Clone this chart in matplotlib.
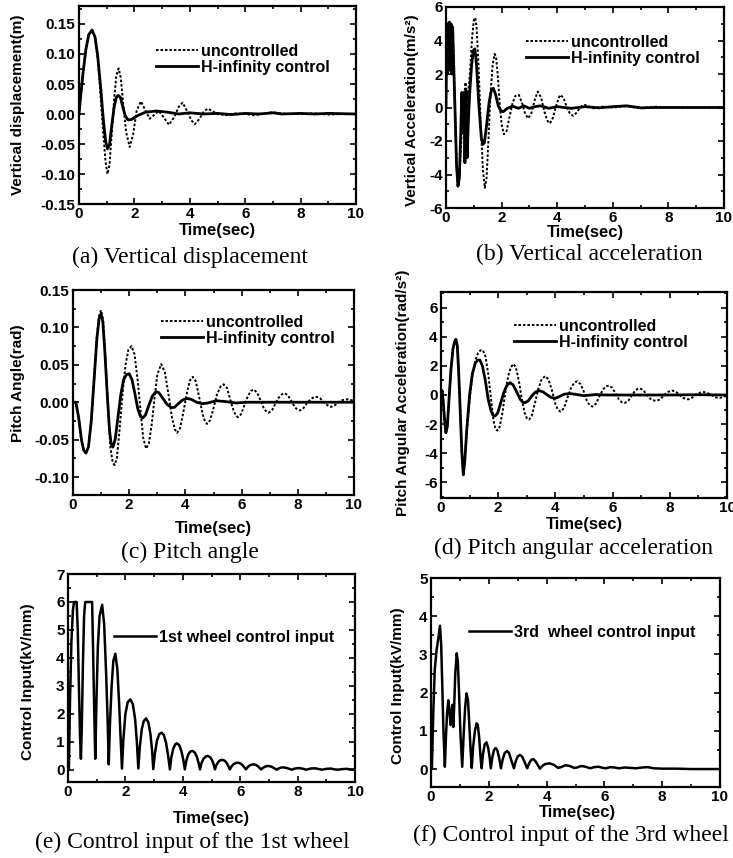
import matplotlib
matplotlib.use("Agg")
import matplotlib.pyplot as plt
from matplotlib.ticker import MultipleLocator, FormatStrFormatter

plt.rcParams['font.family'] = ['Liberation Sans', 'DejaVu Sans']
plt.rcParams['font.weight'] = 'bold'
plt.rcParams['axes.unicode_minus'] = False

# (time, value) pairs
a_unc = [(0, 0), (0.05, 0.025), (0.15, 0.07), (0.25, 0.108), (0.35, 0.132), (0.47, 0.140), (0.58, 0.128),
         (0.68, 0.09), (0.78, 0.03), (0.88, -0.035), (0.96, -0.08), (1.03, -0.100), (1.1, -0.085), (1.18, -0.035),
         (1.27, 0.025), (1.35, 0.065), (1.43, 0.076), (1.51, 0.06), (1.6, 0.015), (1.7, -0.03), (1.83, -0.055),
         (1.95, -0.035), (2.08, 0.005), (2.23, 0.021), (2.38, 0.008), (2.55, -0.008), (2.7, -0.002), (2.88, 0.005),
         (3.05, -0.005), (3.25, -0.018), (3.45, -0.004), (3.6, 0.012), (3.74, 0.019), (3.9, 0.005), (4.05, -0.01),
         (4.18, -0.017), (4.35, -0.008), (4.5, 0.004), (4.65, 0.009), (4.8, 0.005), (5.0, 0.0), (5.3, -0.002),
         (5.6, 0.001), (6.0, 0.0), (6.3, -0.002), (6.6, 0.0), (7.0, 0.003), (7.5, 0.0), (8.0, 0.0), (8.5, 0.001),
         (9.0, -0.001), (9.5, 0.0), (10, 0.0)]
a_ctrl = [(0, 0), (0.05, 0.025), (0.15, 0.07), (0.25, 0.108), (0.35, 0.132), (0.47, 0.140), (0.58, 0.128),
          (0.68, 0.095), (0.78, 0.045), (0.88, -0.01), (0.96, -0.045), (1.03, -0.058), (1.1, -0.052), (1.18, -0.02),
          (1.27, 0.012), (1.35, 0.028), (1.42, 0.031), (1.5, 0.027), (1.58, 0.012), (1.67, -0.003), (1.77, -0.010),
          (1.9, -0.009), (2.1, -0.003), (2.4, 0.003), (2.8, 0.005), (3.2, 0.003), (3.6, 0.0), (4.0, 0.002),
          (4.5, 0.0), (5.0, 0.001), (5.5, -0.001), (6.0, 0.001), (6.5, 0.0), (7.0, 0.002), (7.3, 0.0),
          (8.0, 0.001), (8.5, 0.0), (9.0, 0.001), (10.0, 0.0)]

b_unc = [(0, 0), (0.02, 4.0), (0.04, 2.0), (0.06, 5.0), (0.09, 2.2), (0.12, 5.1), (0.15, 2.5), (0.18, 5.0),
         (0.21, 2.0), (0.24, 4.8), (0.27, 3.0), (0.33, -0.5), (0.38, -3.5), (0.43, -4.7), (0.48, -4.2), (0.55, -2.0),
         (0.62, 0.0), (0.7, 1.5), (0.78, 0.5), (0.86, 2.0), (0.94, 4.2), (1.0, 5.2), (1.05, 5.36), (1.1, 4.8),
         (1.17, 2.5), (1.25, -1.0), (1.33, -3.8), (1.4, -4.8), (1.46, -4.2), (1.53, -1.8), (1.6, 0.8), (1.68, 2.6),
         (1.75, 3.2), (1.8, 3.0), (1.86, 2.0), (1.93, 0.3), (2.0, -1.0), (2.08, -1.6), (2.18, -1.4), (2.28, -0.6),
         (2.4, 0.3), (2.5, 0.7), (2.62, 0.75), (2.75, 0.2), (2.85, -0.4), (2.96, -0.65), (3.08, -0.3), (3.2, 0.5),
         (3.3, 0.95), (3.42, 0.6), (3.55, -0.3), (3.65, -0.8), (3.74, -0.95), (3.85, -0.6), (3.98, 0.2),
         (4.1, 0.75), (4.22, 0.6), (4.35, 0.0), (4.47, -0.4), (4.58, -0.5), (4.7, -0.3), (4.85, 0.05), (5.0, 0.15),
         (5.3, -0.05), (5.6, 0.05), (6.0, 0.0), (6.5, 0.08), (7, -0.05), (7.5, 0.05), (8, 0.0), (9, 0.0), (10, 0.0)]
b_ctrl = [(0, 0), (0.02, 4.0), (0.04, 2.0), (0.06, 5.0), (0.09, 2.2), (0.12, 5.1), (0.15, 2.5), (0.18, 5.0),
          (0.21, 2.0), (0.24, 4.8), (0.27, 3.0), (0.33, -0.5), (0.38, -3.5), (0.43, -4.7), (0.48, -4.2),
          (0.53, -1.5), (0.57, 0.9), (0.61, -1.5), (0.65, 0.9), (0.68, -3.3), (0.72, 1.0), (0.76, -3.0),
          (0.8, -1.0), (0.85, 0.8), (0.92, 2.5), (0.98, 3.4), (1.04, 3.5), (1.1, 2.5), (1.18, 0.2), (1.27, -1.8),
          (1.33, -2.2), (1.38, -2.1), (1.45, -1.2), (1.55, 0.3), (1.63, 1.0), (1.7, 1.15), (1.78, 0.8),
          (1.88, 0.1), (1.97, -0.2), (2.06, -0.25), (2.2, -0.05), (2.4, 0.08), (2.6, -0.05), (2.8, 0.1),
          (3.0, -0.05), (3.2, 0.05), (3.4, 0.1), (3.7, -0.05), (4.0, 0.05), (4.5, -0.05), (5.0, 0.05),
          (5.5, -0.02), (6.0, 0.05), (6.5, 0.1), (7.0, -0.02), (7.5, 0.0), (8.0, 0.0), (9.0, 0.0), (10.0, 0.0)]

c_unc = [(0, 0), (0.1, 0.0), (0.2, -0.02), (0.3, -0.05), (0.38, -0.064), (0.46, -0.068), (0.55, -0.06),
         (0.65, -0.025), (0.75, 0.03), (0.85, 0.088), (0.93, 0.116), (1.0, 0.123), (1.07, 0.11), (1.15, 0.06),
         (1.24, -0.005), (1.33, -0.06), (1.41, -0.08), (1.48, -0.084), (1.56, -0.075), (1.65, -0.04), (1.76, 0.01),
         (1.87, 0.05), (1.97, 0.07), (2.08, 0.075), (2.19, 0.064), (2.3, 0.03), (2.4, -0.01), (2.5, -0.048),
         (2.6, -0.062), (2.7, -0.055), (2.8, -0.03), (2.9, 0.005), (3.0, 0.037), (3.14, 0.051), (3.27, 0.04),
         (3.4, 0.01), (3.52, -0.02), (3.62, -0.036), (3.7, -0.041), (3.8, -0.036), (3.92, -0.015), (4.05, 0.012),
         (4.16, 0.029), (4.26, 0.034), (4.37, 0.028), (4.5, 0.005), (4.62, -0.017), (4.7, -0.026), (4.77, -0.029),
         (4.88, -0.024), (5.0, -0.008), (5.13, 0.011), (5.25, 0.021), (5.36, 0.024), (5.48, 0.019), (5.6, 0.003),
         (5.72, -0.012), (5.8, -0.018), (5.87, -0.020), (5.98, -0.016), (6.1, -0.004), (6.22, 0.008),
         (6.33, 0.015), (6.43, 0.017), (6.55, 0.013), (6.68, 0.002), (6.8, -0.009), (6.9, -0.013), (6.96, -0.014),
         (7.08, -0.011), (7.2, -0.002), (7.32, 0.006), (7.45, 0.011), (7.54, 0.012), (7.65, 0.009), (7.78, 0.001),
         (7.9, -0.007), (8.0, -0.010), (8.08, -0.011), (8.2, -0.008), (8.33, -0.001), (8.46, 0.004), (8.58, 0.007),
         (8.68, 0.007), (8.8, 0.005), (8.93, 0.0), (9.05, -0.004), (9.13, -0.006), (9.2, -0.006), (9.32, -0.004),
         (9.45, 0.0), (9.6, 0.003), (9.75, 0.004), (9.88, 0.003), (10.0, 0.002)]
c_ctrl = [(0, 0), (0.1, 0.0), (0.2, -0.02), (0.3, -0.05), (0.38, -0.064), (0.46, -0.068), (0.55, -0.06),
          (0.65, -0.025), (0.75, 0.03), (0.85, 0.085), (0.93, 0.112), (1.0, 0.118), (1.06, 0.108), (1.13, 0.07),
          (1.22, 0.01), (1.3, -0.038), (1.36, -0.056), (1.42, -0.06), (1.5, -0.05), (1.6, -0.02), (1.7, 0.01),
          (1.8, 0.03), (1.9, 0.037), (2.0, 0.038), (2.1, 0.03), (2.2, 0.012), (2.3, -0.008), (2.4, -0.019),
          (2.48, -0.021), (2.58, -0.017), (2.7, -0.004), (2.82, 0.008), (2.95, 0.014), (3.05, 0.013), (3.2, 0.005),
          (3.35, -0.003), (3.5, -0.007), (3.6, -0.007), (3.75, -0.002), (3.9, 0.003), (4.05, 0.005), (4.2, 0.004),
          (4.4, 0.0), (4.6, -0.002), (4.8, -0.001), (5.1, 0.002), (5.4, 0.001), (5.8, -0.001), (6.2, 0.0),
          (7, 0.0), (8, 0.0), (9, 0.0), (10, 0.0)]

d_unc = [(0, 0), (0.04, 0.3), (0.08, -0.5), (0.12, -1.6), (0.17, -2.6), (0.22, -2.2), (0.28, -0.3), (0.35, 1.8),
         (0.42, 3.2), (0.48, 3.7), (0.52, 3.8), (0.57, 3.4), (0.62, 1.5), (0.68, -1.5), (0.73, -4.0), (0.78, -5.4),
         (0.83, -4.6), (0.9, -2.6), (1.0, -0.3), (1.1, 1.4), (1.2, 2.4), (1.3, 2.9), (1.38, 3.08), (1.46, 3.1),
         (1.55, 2.7), (1.65, 1.5), (1.75, -0.3), (1.84, -1.8), (1.9, -2.3), (1.97, -2.46), (2.05, -2.2),
         (2.15, -1.2), (2.25, 0.2), (2.35, 1.3), (2.44, 1.9), (2.53, 2.14), (2.62, 1.9), (2.72, 1.0), (2.82, -0.2),
         (2.92, -1.2), (3.0, -1.6), (3.08, -1.7), (3.17, -1.45), (3.28, -0.6), (3.4, 0.4), (3.52, 1.1),
         (3.64, 1.3), (3.75, 1.1), (3.87, 0.4), (3.98, -0.5), (4.08, -1.0), (4.18, -1.15), (4.3, -0.9),
         (4.42, -0.2), (4.55, 0.5), (4.66, 0.85), (4.76, 0.95), (4.88, 0.75), (5.0, 0.2), (5.1, -0.4),
         (5.2, -0.72), (5.3, -0.8), (5.42, -0.6), (5.55, -0.05), (5.67, 0.4), (5.77, 0.6), (5.87, 0.65),
         (5.99, 0.5), (6.1, 0.1), (6.22, -0.3), (6.32, -0.5), (6.42, -0.55), (6.55, -0.4), (6.68, 0.0),
         (6.8, 0.32), (6.88, 0.43), (6.95, 0.45), (7.08, 0.33), (7.2, 0.0), (7.33, -0.28), (7.45, -0.38),
         (7.55, -0.4), (7.67, -0.28), (7.8, 0.0), (7.92, 0.2), (8.02, 0.28), (8.1, 0.3), (8.22, 0.22), (8.35, 0.0),
         (8.47, -0.2), (8.57, -0.28), (8.65, -0.3), (8.77, -0.2), (8.9, 0.0), (9.02, 0.14), (9.12, 0.19),
         (9.2, 0.2), (9.32, 0.14), (9.45, 0.0), (9.57, -0.13), (9.67, -0.19), (9.75, -0.2), (9.88, -0.12),
         (10.0, -0.05)]
d_ctrl = [(0, 0), (0.04, 0.3), (0.08, -0.5), (0.12, -1.6), (0.17, -2.6), (0.22, -2.2), (0.28, -0.3), (0.35, 1.8),
          (0.42, 3.2), (0.48, 3.7), (0.52, 3.84), (0.57, 3.4), (0.62, 1.5), (0.68, -1.5), (0.73, -4.0),
          (0.78, -5.5), (0.83, -4.6), (0.9, -2.4), (1.0, 0.0), (1.1, 1.5), (1.2, 2.2), (1.28, 2.4), (1.36, 2.41),
          (1.45, 2.0), (1.55, 1.0), (1.65, -0.3), (1.75, -1.1), (1.82, -1.4), (1.89, -1.45), (1.98, -1.25),
          (2.08, -0.6), (2.2, 0.2), (2.3, 0.65), (2.41, 0.85), (2.52, 0.7), (2.65, 0.2), (2.77, -0.3),
          (2.86, -0.5), (2.94, -0.53), (3.05, -0.4), (3.18, -0.05), (3.3, 0.2), (3.44, 0.3), (3.58, 0.2),
          (3.72, 0.0), (3.85, -0.17), (3.99, -0.23), (4.15, -0.1), (4.3, 0.05), (4.5, 0.1), (4.7, 0.05),
          (5.0, -0.05), (5.4, 0.03), (5.8, 0.0), (6.3, 0.0), (7, 0.0), (8, 0.0), (9, 0.02), (10, 0.0)]

e_wheel1 = [(0, 0), (0.03, 0.0), (0.07, 2.5), (0.12, 4.6), (0.17, 5.7), (0.21, 6.0), (0.3, 6.0), (0.34, 5.0),
            (0.38, 3.0), (0.42, 1.2), (0.45, 0.4), (0.48, 1.5), (0.52, 3.8), (0.56, 5.5), (0.6, 6.0), (0.84, 6.0),
            (0.87, 4.5), (0.91, 2.3), (0.95, 0.4), (0.99, 2.4), (1.04, 4.4), (1.1, 5.5), (1.19, 5.9), (1.26, 5.2),
            (1.33, 3.4), (1.38, 1.8), (1.42, 0.2), (1.46, 1.6), (1.52, 3.0), (1.58, 3.9), (1.65, 4.15), (1.72, 3.6),
            (1.78, 2.4), (1.83, 1.2), (1.88, 0.05), (1.93, 1.1), (2.0, 2.0), (2.08, 2.42), (2.17, 2.52),
            (2.26, 2.35), (2.34, 1.8), (2.4, 1.0), (2.45, 0.05), (2.5, 0.8), (2.57, 1.45), (2.64, 1.75),
            (2.72, 1.84), (2.8, 1.7), (2.87, 1.3), (2.93, 0.7), (2.97, 0.03), (3.03, 0.6), (3.1, 1.05),
            (3.18, 1.28), (3.26, 1.33), (3.34, 1.25), (3.42, 0.95), (3.49, 0.5), (3.55, 0.02), (3.6, 0.45),
            (3.67, 0.77), (3.74, 0.92), (3.8, 0.95), (3.88, 0.88), (3.95, 0.68), (4.02, 0.35), (4.07, 0.02),
            (4.12, 0.32), (4.19, 0.55), (4.26, 0.66), (4.34, 0.68), (4.42, 0.62), (4.49, 0.47), (4.55, 0.25),
            (4.6, 0.02), (4.65, 0.24), (4.72, 0.4), (4.8, 0.48), (4.87, 0.5), (4.95, 0.46), (5.02, 0.35),
            (5.08, 0.18), (5.12, 0.02), (5.17, 0.17), (5.24, 0.29), (5.31, 0.35), (5.38, 0.36), (5.46, 0.33),
            (5.53, 0.25), (5.59, 0.13), (5.64, 0.02), (5.7, 0.13), (5.77, 0.21), (5.85, 0.25), (5.92, 0.26),
            (6.0, 0.24), (6.07, 0.18), (6.14, 0.1), (6.2, 0.02), (6.26, 0.1), (6.33, 0.16), (6.4, 0.19),
            (6.47, 0.2), (6.55, 0.18), (6.62, 0.13), (6.68, 0.07), (6.73, 0.02), (6.8, 0.08), (6.87, 0.12),
            (6.94, 0.14), (7.0, 0.14), (7.08, 0.12), (7.16, 0.08), (7.22, 0.04), (7.27, 0.01), (7.35, 0.06),
            (7.45, 0.09), (7.53, 0.09), (7.65, 0.06), (7.8, 0.01), (7.9, 0.05), (8.05, 0.07), (8.2, 0.04),
            (8.3, 0.01), (8.45, 0.05), (8.6, 0.06), (8.75, 0.03), (8.85, 0.01), (9.0, 0.04), (9.15, 0.05),
            (9.3, 0.02), (9.4, 0.01), (9.55, 0.03), (9.7, 0.04), (9.85, 0.02), (10.0, 0.02)]

f_wheel3 = [(0, 0), (0.03, 0.0), (0.08, 1.5), (0.13, 2.6), (0.19, 3.1), (0.25, 3.4), (0.31, 3.75), (0.35, 3.3),
            (0.39, 2.2), (0.43, 1.0), (0.48, 0.06), (0.52, 0.9), (0.56, 1.5), (0.6, 1.8), (0.64, 1.5), (0.68, 1.15),
            (0.71, 1.5), (0.74, 1.68), (0.77, 1.1), (0.8, 1.6), (0.84, 2.5), (0.89, 3.03), (0.93, 2.8), (0.97, 2.0),
            (1.02, 0.9), (1.08, 0.06), (1.13, 0.9), (1.18, 1.6), (1.23, 1.98), (1.28, 1.8), (1.33, 1.1), (1.37, 0.5),
            (1.41, 0.03), (1.46, 0.6), (1.52, 1.0), (1.58, 1.2), (1.62, 1.15), (1.67, 0.8), (1.71, 0.35),
            (1.75, 0.02), (1.8, 0.4), (1.86, 0.65), (1.92, 0.7), (1.98, 0.55), (2.03, 0.3), (2.07, 0.02), (2.12, 0.3),
            (2.18, 0.5), (2.24, 0.55), (2.3, 0.48), (2.36, 0.28), (2.42, 0.02), (2.48, 0.25), (2.55, 0.42),
            (2.63, 0.47), (2.7, 0.42), (2.77, 0.25), (2.87, 0.02), (2.93, 0.2), (3.0, 0.33), (3.08, 0.37),
            (3.16, 0.32), (3.24, 0.18), (3.33, 0.02), (3.4, 0.16), (3.47, 0.24), (3.54, 0.26), (3.62, 0.2),
            (3.7, 0.1), (3.77, 0.01), (3.85, 0.08), (3.95, 0.13), (4.1, 0.15), (4.25, 0.11), (4.4, 0.03),
            (4.5, 0.05), (4.65, 0.1), (4.8, 0.08), (4.95, 0.03), (5.05, 0.04), (5.2, 0.08), (5.35, 0.06),
            (5.5, 0.02), (5.65, 0.05), (5.8, 0.06), (5.95, 0.03), (6.05, 0.02), (6.2, 0.05), (6.35, 0.04),
            (6.5, 0.02), (6.7, 0.04), (6.9, 0.03), (7.1, 0.02), (7.3, 0.04), (7.5, 0.05), (7.7, 0.02), (8.0, 0.01),
            (8.5, 0.01), (9.0, 0.0), (10.0, 0.0)]

ylabels = ['Vertical displacement(m)', 'Vertical Acceleration(m/s²)', 'Pitch Angle(rad)',
           'Pitch Angular Acceleration(rad/s²)', 'Control Input(kV/mm)', 'Control Input(kV/mm)']
captions = ['(a) Vertical displacement', '(b) Vertical acceleration', '(c) Pitch angle',
            '(d) Pitch angular acceleration', '(e) Control input of the 1st wheel',
            '(f) Control input of the 3rd wheel']

W, H = 733, 858
fig = plt.figure(figsize=(W / 100, H / 100), dpi=100)


def px_axes(l, r, t, b):
    return fig.add_axes([l / W, 1 - b / H, (r - l) / W, (b - t) / H])


def fx(x):
    return x / W


def fy(y):
    return 1 - y / H


# axes frames in pixels: left, right, top, bottom
boxes = [(79, 356, 6, 204), (446, 724, 7, 208), (73, 354, 290, 495),
         (441, 727, 292, 498), (68, 355, 574, 782), (431, 720, 578, 787)]
ylims = [(-0.15, 0.18), (-6, 6), (-0.124, 0.15), (-7.1, 7.1), (-0.43, 7), (-0.47, 5)]
ymajor = [0.05, 2, 0.05, 2, 1, 1]
yfmt = ['%.2f', '%d', '%.2f', '%d', '%d', '%d']
ylab_pos = [(18, 105), (412, 110), (18, 383), (403, 393), (28, 682), (398, 686)]
xlab_pos = [(217, 231), (585, 232), (213, 528), (584, 524), (211, 818), (577, 812)]
cap_pos = [(190, 257), (589, 254), (190, 552), (574, 548), (192, 842), (571, 835)]
leg_pos = [(156, 44), (526, 35), (161, 315), (514, 319), (114, 630), (469, 625)]

pairs = [(a_unc, a_ctrl), (b_unc, b_ctrl), (c_unc, c_ctrl), (d_unc, d_ctrl), (None, e_wheel1), (None, f_wheel3)]
dot = (0, (1.3, 1.0))
sans_bold = dict(family=['Liberation Sans', 'DejaVu Sans'], weight='bold', size=11)

for i, box in enumerate(boxes):
    ax = px_axes(*box)
    unc, ctrl = pairs[i]
    if unc is not None:
        ax.plot([p[0] for p in unc], [p[1] for p in unc], color='black', lw=1.4, ls=dot, label='uncontrolled')
        ax.plot([p[0] for p in ctrl], [p[1] for p in ctrl], color='black', lw=2.0, label='H-infinity control')
    else:
        lab = '1st wheel control input' if i == 4 else '3rd  wheel control input'
        ax.plot([p[0] for p in ctrl], [p[1] for p in ctrl], color='black', lw=1.8, label=lab)

    ax.set_xlim(0, 10)
    ax.set_ylim(*ylims[i])
    ax.xaxis.set_major_locator(MultipleLocator(2))
    ax.xaxis.set_minor_locator(MultipleLocator(1))
    ax.yaxis.set_major_locator(MultipleLocator(ymajor[i]))
    ax.yaxis.set_minor_locator(MultipleLocator(ymajor[i] / 2))
    ax.yaxis.set_major_formatter(FormatStrFormatter(yfmt[i]))
    ax.tick_params(which='both', direction='in', top=True, right=True, width=1.2)
    ax.tick_params(which='major', length=4, labelsize=11, pad=2.5)
    ax.tick_params(which='minor', length=2)
    for lbl in ax.get_xticklabels() + ax.get_yticklabels():
        lbl.set_fontweight('bold')
    for s in ax.spines.values():
        s.set_linewidth(1.6)

    ax.set_ylabel(ylabels[i], fontdict=sans_bold)
    ax.yaxis.set_label_coords(fx(ylab_pos[i][0]), fy(ylab_pos[i][1]), transform=fig.transFigure)
    ax.set_xlabel('Time(sec)', fontdict=dict(sans_bold, size=12))
    ax.xaxis.set_label_coords(fx(xlab_pos[i][0]), fy(xlab_pos[i][1]), transform=fig.transFigure)
    ax.xaxis.label.set_va('center')
    ax.yaxis.label.set_va('center')

    fig.text(fx(cap_pos[i][0]), fy(cap_pos[i][1]), captions[i], ha='center', va='center',
             family=['Liberation Serif', 'DejaVu Serif'], weight='normal', size=17)

    ax.legend(loc='upper left', bbox_to_anchor=(fx(leg_pos[i][0]), fy(leg_pos[i][1])),
              bbox_transform=fig.transFigure, frameon=False, borderpad=0, borderaxespad=0,
              handlelength=2.6, handletextpad=0.2, labelspacing=0.05,
              prop=dict(family=['Liberation Sans', 'DejaVu Sans'], weight='bold', size=11.5))

fig.savefig('out.png', dpi=100, facecolor='white')
